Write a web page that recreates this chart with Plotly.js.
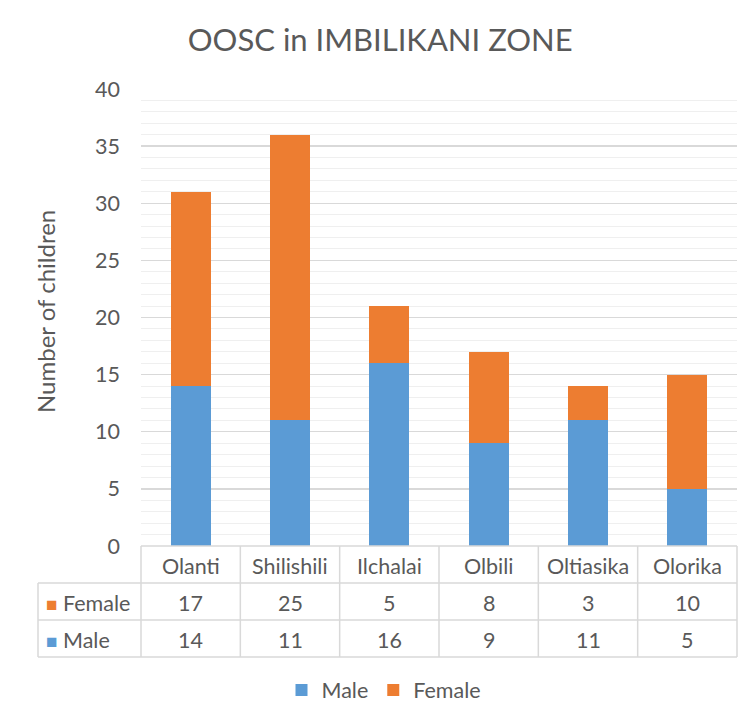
<!DOCTYPE html>
<html>
<head>
<meta charset="utf-8">
<script src="https://cdn.plot.ly/plotly-3.0.1.min.js"></script>
<style>html,body{margin:0;padding:0;background:#fff;}#chart{width:750px;height:710px;}</style>
</head>
<body>
<div id="chart"></div>
<script>
const categories = ["Olanti", "Shilishili", "Ilchalai", "Olbili", "Oltiasika", "Olorika"];
const male = [14, 11, 16, 9, 11, 5];
const female = [17, 25, 5, 8, 3, 10];
const colors = {Male: "#5B9BD5", Female: "#ED7D31"};
const titleText = "OOSC in IMBILIKANI ZONE";
const yTitle = "Number of children";

const W = 750, H = 710;
const L = 141, R = 737, T = 89, B = 546;
const pw = R - L, ph = B - T;
const px = x => (x - L) / pw;          // pixel -> paper x
const py = y => (B - y) / ph;          // pixel -> paper y
const FONT = "Lato, 'Open Sans', sans-serif";
const TXT = "#595959";
const LINE = "#d9d9d9";
const FS = 21.5;

const traces = [
  {type: "bar", name: "Male", x: categories, y: male, marker: {color: colors.Male}},
  {type: "bar", name: "Female", x: categories, y: female, marker: {color: colors.Female}}
];

const rowTop = 546, row1 = 583, row2 = 620, row3 = 657, tableLeft = 38;
const shapes = [];
const hline = (x0, x1, y) => shapes.push({type: "line", xref: "paper", yref: "paper", x0: px(x0), x1: px(x1), y0: py(y), y1: py(y), line: {color: LINE, width: 1.5}});
const vline = (x, y0, y1) => shapes.push({type: "line", xref: "paper", yref: "paper", x0: px(x), x1: px(x), y0: py(y0), y1: py(y1), line: {color: LINE, width: 1.5}});
hline(L, R, rowTop);
hline(tableLeft, R, row1);
hline(tableLeft, R, row2);
hline(tableLeft, R, row3);
vline(tableLeft, row1, row3);
for (let i = 0; i <= categories.length; i++) vline(L + i * pw / categories.length, rowTop, row3);

const annotations = [];
const rowMid = (a, b) => py((a + b) / 2 + 1);
const cellFont = {family: FONT, size: FS, color: TXT};
categories.forEach((c, i) => {
  annotations.push({xref: "x", yref: "paper", x: c, xanchor: "center", y: rowMid(rowTop, row1), yanchor: "middle", text: c, showarrow: false, font: cellFont});
  annotations.push({xref: "x", yref: "paper", x: c, xanchor: "center", y: rowMid(row1, row2), yanchor: "middle", text: String(female[i]), showarrow: false, font: cellFont});
  annotations.push({xref: "x", yref: "paper", x: c, xanchor: "center", y: rowMid(row2, row3), yanchor: "middle", text: String(male[i]), showarrow: false, font: cellFont});
});
annotations.push({xref: "paper", yref: "paper", x: px(44), xanchor: "left", y: rowMid(row1, row2), yanchor: "middle",
  text: '<span style="color:' + colors.Female + ';font-size:19px">■</span> Female', showarrow: false, font: cellFont});
annotations.push({xref: "paper", yref: "paper", x: px(44), xanchor: "left", y: rowMid(row2, row3), yanchor: "middle",
  text: '<span style="color:' + colors.Male + ';font-size:19px">■</span> Male', showarrow: false, font: cellFont});
annotations.push({xref: "paper", yref: "paper", x: px(45), xanchor: "center", y: py(312), yanchor: "middle", textangle: -90, text: yTitle, showarrow: false, font: {family: FONT, size: 24, color: TXT}});

const layout = {
  width: W, height: H,
  margin: {l: L, r: W - R, t: T, b: H - B, pad: 0, autoexpand: false},
  paper_bgcolor: "#fff", plot_bgcolor: "#fff",
  title: {text: titleText, x: 0.507, xanchor: "center", y: 1 - 40 / H, yanchor: "middle", font: {family: FONT, size: 31, color: TXT}},
  barmode: "stack", bargap: 0.6,
  xaxis: {type: "category", showticklabels: false, showgrid: false, zeroline: false, showline: false, ticks: "", fixedrange: true},
  yaxis: {range: [0, 40], dtick: 5, tick0: 0, showgrid: true, gridcolor: LINE, gridwidth: 1.3, zeroline: false, showline: false,
    ticks: "", ticklabelstandoff: 20, tickfont: {family: FONT, size: FS, color: TXT},
    minor: {dtick: 1, showgrid: true, gridcolor: "#efefef", gridwidth: 1}},
  showlegend: true,
  legend: {orientation: "h", x: px(384), xanchor: "center", y: py(690), yanchor: "middle", font: {family: FONT, size: FS, color: TXT}, traceorder: "normal", itemwidth: 30},
  shapes: shapes,
  annotations: annotations
};

Plotly.newPlot("chart", traces, layout, {displayModeBar: false, staticPlot: true});
</script>
</body>
</html>
